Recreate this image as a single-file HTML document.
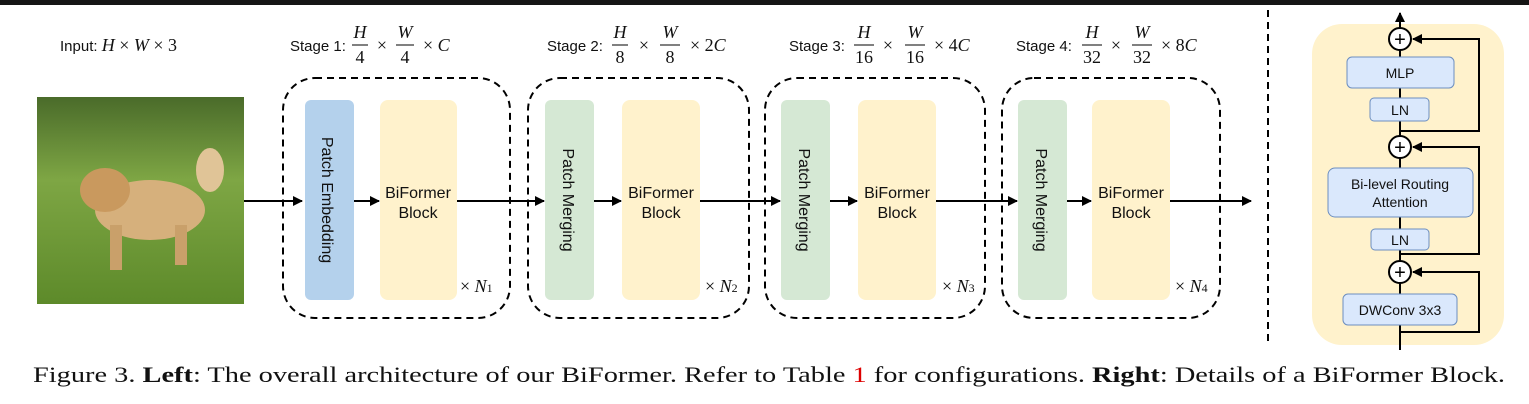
<!DOCTYPE html>
<html><head><meta charset="utf-8"><style>
body{margin:0;background:#fff;}
svg{display:block;}
.s{font-family:"Liberation Sans",sans-serif;font-size:15px;fill:#111;}
.m{font-family:"Liberation Serif",serif;font-size:18px;fill:#111;font-style:italic;}
.n{font-family:"Liberation Serif",serif;font-size:18px;fill:#111;}
.b{font-family:"Liberation Sans",sans-serif;font-size:16px;fill:#111;}
</style></head><body>
<svg width="1529" height="404" viewBox="0 0 1529 404">
<defs>
<marker id="ah" markerWidth="10" markerHeight="10" refX="9" refY="5" orient="auto" markerUnits="userSpaceOnUse"><path d="M0,0 L10,5 L0,10 z" fill="#000"/></marker>
<linearGradient id="grass" x1="0" y1="0" x2="0" y2="1"><stop offset="0" stop-color="#4a6b2a"/><stop offset="0.4" stop-color="#7ea644"/><stop offset="1" stop-color="#5d8a2a"/></linearGradient>
</defs>
<rect x="0" y="0" width="1529" height="5" fill="#151515"/>

<text x="60" y="51" class="s">Input: <tspan class="m">H</tspan><tspan class="n"> × </tspan><tspan class="m">W</tspan><tspan class="n"> × 3</tspan></text>
<g>
<rect x="37" y="97" width="207" height="207" fill="url(#grass)"/>
<ellipse cx="150" cy="210" rx="55" ry="30" fill="#d6b07c"/>
<ellipse cx="105" cy="190" rx="25" ry="22" fill="#c9995e"/>
<ellipse cx="210" cy="170" rx="14" ry="22" fill="#e0c497"/>
<rect x="110" y="225" width="12" height="45" fill="#c9a06a"/><rect x="175" y="225" width="12" height="40" fill="#c9a06a"/>
</g>

<g fill="none" stroke="#000" stroke-width="2">
<line x1="244" y1="201" x2="302" y2="201" marker-end="url(#ah)"/>
<line x1="354" y1="201" x2="379" y2="201" marker-end="url(#ah)"/>
<line x1="457" y1="201" x2="544" y2="201" marker-end="url(#ah)"/>
<line x1="594" y1="201" x2="621" y2="201" marker-end="url(#ah)"/>
<line x1="700" y1="201" x2="780" y2="201" marker-end="url(#ah)"/>
<line x1="830" y1="201" x2="857" y2="201" marker-end="url(#ah)"/>
<line x1="936" y1="201" x2="1017" y2="201" marker-end="url(#ah)"/>
<line x1="1067" y1="201" x2="1091" y2="201" marker-end="url(#ah)"/>
<line x1="1170" y1="201" x2="1251" y2="201" marker-end="url(#ah)"/>
</g>

<g fill="none" stroke="#000" stroke-width="2" stroke-dasharray="7,5">
<rect x="283" y="78" width="227" height="240" rx="32"/>
<rect x="528" y="78" width="221" height="240" rx="32"/>
<rect x="765" y="78" width="220" height="240" rx="32"/>
<rect x="1002" y="78" width="218" height="240" rx="32"/>
<line x1="1268" y1="10" x2="1268" y2="342"/>
</g>

<g>
<text x="290" y="51" class="s">Stage 1:</text>
<text x="360" y="38" class="m" text-anchor="middle">H</text><line x1="352" y1="45" x2="368" y2="45" stroke="#000"/><text x="360" y="63" class="n" text-anchor="middle">4</text>
<text x="382" y="51" class="n" text-anchor="middle">×</text>
<text x="405" y="38" class="m" text-anchor="middle">W</text><line x1="396" y1="45" x2="414" y2="45" stroke="#000"/><text x="405" y="63" class="n" text-anchor="middle">4</text>
<text x="423" y="51" class="n">× <tspan class="m">C</tspan></text>
</g>
<g>
<text x="547" y="51" class="s">Stage 2:</text>
<text x="620" y="38" class="m" text-anchor="middle">H</text><line x1="612" y1="45" x2="628" y2="45" stroke="#000"/><text x="620" y="63" class="n" text-anchor="middle">8</text>
<text x="644" y="51" class="n" text-anchor="middle">×</text>
<text x="670" y="38" class="m" text-anchor="middle">W</text><line x1="660" y1="45" x2="680" y2="45" stroke="#000"/><text x="670" y="63" class="n" text-anchor="middle">8</text>
<text x="690" y="51" class="n">× 2<tspan class="m">C</tspan></text>
</g>
<g>
<text x="789" y="51" class="s">Stage 3:</text>
<text x="864" y="38" class="m" text-anchor="middle">H</text><line x1="854" y1="45" x2="874" y2="45" stroke="#000"/><text x="864" y="63" class="n" text-anchor="middle">16</text>
<text x="888" y="51" class="n" text-anchor="middle">×</text>
<text x="915" y="38" class="m" text-anchor="middle">W</text><line x1="905" y1="45" x2="925" y2="45" stroke="#000"/><text x="915" y="63" class="n" text-anchor="middle">16</text>
<text x="934" y="51" class="n">× 4<tspan class="m">C</tspan></text>
</g>
<g>
<text x="1016" y="51" class="s">Stage 4:</text>
<text x="1092" y="38" class="m" text-anchor="middle">H</text><line x1="1082" y1="45" x2="1102" y2="45" stroke="#000"/><text x="1092" y="63" class="n" text-anchor="middle">32</text>
<text x="1116" y="51" class="n" text-anchor="middle">×</text>
<text x="1142" y="38" class="m" text-anchor="middle">W</text><line x1="1132" y1="45" x2="1152" y2="45" stroke="#000"/><text x="1142" y="63" class="n" text-anchor="middle">32</text>
<text x="1161" y="51" class="n">× 8<tspan class="m">C</tspan></text>
</g>

<rect x="305" y="100" width="49" height="200" rx="6" fill="#b4d1ec"/>
<text transform="translate(322,200) rotate(90)" class="b" text-anchor="middle">Patch Embedding</text>
<rect x="380" y="100" width="77" height="200" rx="8" fill="#fff2cc"/>
<text x="418" y="198" class="b" text-anchor="middle">BiFormer</text><text x="418" y="218" class="b" text-anchor="middle">Block</text>
<text x="460" y="292" class="n">× <tspan class="m">N</tspan><tspan font-size="12">1</tspan></text>

<rect x="545" y="100" width="49" height="200" rx="6" fill="#d5e8d4"/>
<text transform="translate(563,200) rotate(90)" class="b" text-anchor="middle">Patch Merging</text>
<rect x="622" y="100" width="78" height="200" rx="8" fill="#fff2cc"/>
<text x="661" y="198" class="b" text-anchor="middle">BiFormer</text><text x="661" y="218" class="b" text-anchor="middle">Block</text>
<text x="705" y="292" class="n">× <tspan class="m">N</tspan><tspan font-size="12">2</tspan></text>

<rect x="781" y="100" width="49" height="200" rx="6" fill="#d5e8d4"/>
<text transform="translate(799,200) rotate(90)" class="b" text-anchor="middle">Patch Merging</text>
<rect x="858" y="100" width="78" height="200" rx="8" fill="#fff2cc"/>
<text x="897" y="198" class="b" text-anchor="middle">BiFormer</text><text x="897" y="218" class="b" text-anchor="middle">Block</text>
<text x="942" y="292" class="n">× <tspan class="m">N</tspan><tspan font-size="12">3</tspan></text>

<rect x="1018" y="100" width="49" height="200" rx="6" fill="#d5e8d4"/>
<text transform="translate(1036,200) rotate(90)" class="b" text-anchor="middle">Patch Merging</text>
<rect x="1092" y="100" width="78" height="200" rx="8" fill="#fff2cc"/>
<text x="1131" y="198" class="b" text-anchor="middle">BiFormer</text><text x="1131" y="218" class="b" text-anchor="middle">Block</text>
<text x="1175" y="292" class="n">× <tspan class="m">N</tspan><tspan font-size="12">4</tspan></text>

<g>
<rect x="1312" y="24" width="192" height="321" rx="30" fill="#fff2cc"/>
<g stroke="#000" stroke-width="2" fill="none">
<line x1="1400" y1="350" x2="1400" y2="13" marker-end="url(#ah)"/>
<polyline points="1400,332 1479,332 1479,272 1413,272" marker-end="url(#ah)"/>
<polyline points="1400,254 1479,254 1479,147 1413,147" marker-end="url(#ah)"/>
<polyline points="1400,131 1479,131 1479,39 1413,39" marker-end="url(#ah)"/>
</g>
<g fill="#dae8fc" stroke="#6c8ebf" stroke-width="1">
<rect x="1347" y="57" width="107" height="31" rx="5"/>
<rect x="1370" y="98" width="59" height="23" rx="4"/>
<rect x="1328" y="168" width="145" height="49" rx="7"/>
<rect x="1371" y="229" width="58" height="21" rx="4"/>
<rect x="1343" y="294" width="114" height="31" rx="5"/>
</g>
<g fill="#fff" stroke="#000" stroke-width="2">
<circle cx="1400" cy="39" r="11"/><circle cx="1400" cy="147" r="11"/><circle cx="1400" cy="272" r="11"/>
</g>
<g font-family="Liberation Sans,sans-serif" font-size="20" text-anchor="middle" fill="#000">
<text x="1400" y="46">+</text><text x="1400" y="154">+</text><text x="1400" y="279">+</text>
</g>
<g font-family="Liberation Sans,sans-serif" font-size="14" text-anchor="middle" fill="#111">
<text x="1400" y="78">MLP</text>
<text x="1400" y="115">LN</text>
<text x="1400" y="189">Bi-level Routing</text>
<text x="1400" y="207">Attention</text>
<text x="1400" y="245">LN</text>
<text x="1400" y="315">DWConv 3x3</text>
</g>
</g>

<text x="33" y="382" font-family="Liberation Serif,serif" font-size="22" fill="#111" textLength="1472" lengthAdjust="spacingAndGlyphs">Figure 3. <tspan font-weight="bold">Left</tspan>: The overall architecture of our BiFormer. Refer to Table <tspan fill="#d00">1</tspan> for configurations. <tspan font-weight="bold">Right</tspan>: Details of a BiFormer Block.</text>
</svg>
</body></html>
